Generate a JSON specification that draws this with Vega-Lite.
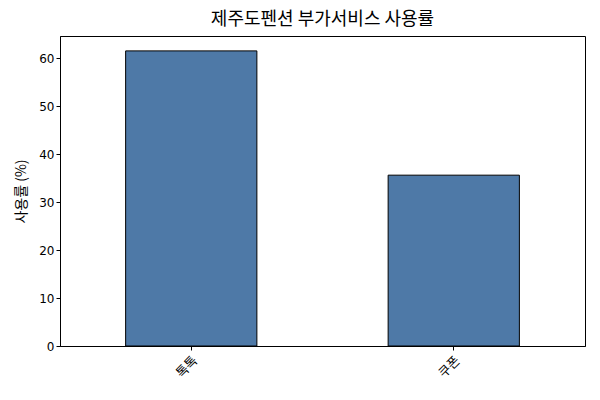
{
  "$schema": "https://vega.github.io/schema/vega-lite/v6.json",
  "autosize": {"type": "none"},
  "padding": {"left": 60, "top": 36, "right": 15, "bottom": 54},
  "width": 525,
  "height": 310,
  "background": "white",
  "title": {"text": "제주도펜션 부가서비스 사용률", "font": "Noto Sans CJK KR", "fontSize": 18, "fontWeight": "normal", "color": "black", "offset": 7},
  "data": {"values": [
    {"service": "톡톡", "rate": 61.5},
    {"service": "쿠폰", "rate": 35.6}
  ]},
  "mark": {"type": "bar", "fill": "#4e79a7", "stroke": "black", "strokeWidth": 1},
  "encoding": {
    "x": {"field": "service", "type": "nominal", "sort": null,
      "scale": {"paddingInner": 0.5, "paddingOuter": 0.25},
      "axis": {"title": null, "labelAngle": -45, "labelAlign": "right", "labelBaseline": "top", "labelFont": "Noto Sans CJK KR", "labelFontSize": 13, "labelColor": "black", "tickColor": "black", "domainColor": "black", "tickSize": 4, "labelPadding": 4}},
    "y": {"field": "rate", "type": "quantitative",
      "scale": {"domain": [0, 64.6], "nice": false},
      "axis": {"title": "사용률 (%)", "titleFont": "Noto Sans CJK KR", "titleFontSize": 14, "titleFontWeight": "normal", "titleColor": "black", "values": [0,10,20,30,40,50,60], "labelFont": "DejaVu Sans", "labelFontSize": 12, "labelColor": "black", "tickColor": "black", "domainColor": "black", "tickSize": 4, "grid": false, "titlePadding": 10}}
  },
  "config": {"view": {"stroke": "black", "strokeWidth": 1}}
}
